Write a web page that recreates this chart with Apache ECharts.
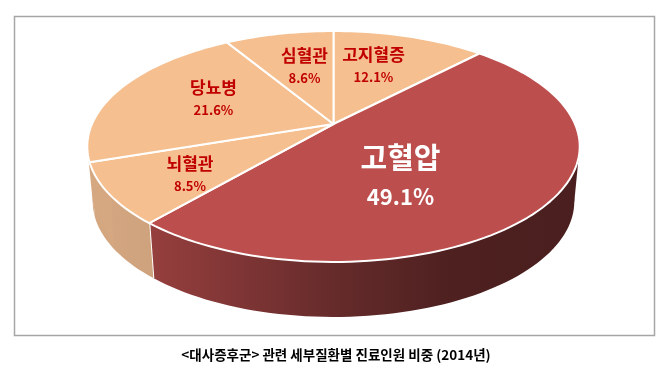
<!DOCTYPE html>
<html>
<head>
<meta charset="utf-8">
<style>
  html, body { margin: 0; padding: 0; background: #fff; }
  #main { width: 672px; height: 365px; }
</style>
<script src="https://cdn.jsdelivr.net/npm/echarts@6/dist/echarts.min.js"></script>
</head>
<body>
<div id="main"></div>
<script>
// clockwise from 12 o'clock
var categories = ['고지혈증', '고혈압', '뇌혈관', '당뇨병', '심혈관'];
var shares = [12.1, 49.1, 8.5, 21.6, 8.6];
var captionText = '<대사증후군> 관련 세부질환별 진료인원 비중 (2014년)';

var FONT = '"Noto Sans CJK KR", sans-serif';
var MAIN = 1; // the big dark slice

// tilted disc: a circle seen in perspective, apex is the centre of the circle
var apexX = 333.5, apexY = 124;
var scaleX = 241.5, scaleY = 111.1, persp = 0.1948;
var depth = 55, bottomShrink = 0.978;

var total = shares.reduce(function (a, b) { return a + b; }, 0);
var starts = [];
shares.reduce(function (acc, v, i) { starts[i] = acc; return acc + v; }, 0);

function rim(theta, bottom) {
    var u = Math.sin(theta), d = -Math.cos(theta);
    var w = 1 - persp * d;
    var k = bottom ? bottomShrink : 1;
    return [
        apexX + scaleX * u / w * k,
        apexY + scaleY * d / w + (bottom ? depth : 0)
    ];
}

function arc(i, bottom) {
    var a = starts[i] / total * Math.PI * 2;
    var b = (starts[i] + shares[i]) / total * Math.PI * 2;
    var n = Math.ceil(shares[i] * 2) + 2;
    var pts = [];
    for (var j = 0; j <= n; j++) {
        pts.push(rim(a + (b - a) * j / n, bottom));
    }
    return pts;
}

// closes the gap between the two rims at the widest point of the disc
// dir: +1 on the right side, -1 on the left (which way round is the front)
function sidePatch(theta, dir, color) {
    var s = 0.4 * dir;
    return {
        type: 'polygon',
        shape: { points: [rim(theta - s), rim(theta), rim(theta, true), rim(theta + s, true)] },
        style: { fill: color }
    };
}

// label centres, name line and percent line
var labelPos = [
    { x: 373.5, y: 55, py: 77 },
    { x: 400.5, y: 158, py: 197 },
    { x: 190, y: 164, py: 186 },
    { x: 213.5, y: 88, py: 110 },
    { x: 304.5, y: 56, py: 78 }
];

function renderWall(params) {
    var i = params.dataIndex;
    var pts = arc(i, false).concat(arc(i, true).reverse());
    var fill = i === MAIN
        ? new echarts.graphic.LinearGradient(0, 0, 1, 0, [
            { offset: 0, color: '#963f3e' },
            { offset: 0.45, color: '#642a2a' },
            { offset: 0.7, color: '#4e2020' },
            { offset: 1, color: '#4b1f1f' }
        ])
        : new echarts.graphic.LinearGradient(0, 0, 1, 0, [
            { offset: 0, color: '#d6a882' },
            { offset: 1, color: '#cda27c' }
        ]);
    var a = starts[i] / total * Math.PI * 2;
    var b = (starts[i] + shares[i]) / total * Math.PI * 2;
    var right = Math.acos(-persp), left = Math.PI * 2 - right;
    var children = [];
    if (a < left && left < b) {
        children.push(sidePatch(left, -1, '#d6a882'));
    }
    if (a < right && right < b) {
        children.push(sidePatch(right, 1, '#4b1f1f'));
    }
    children.push({
        type: 'polygon',
        shape: { points: pts },
        style: { fill: fill, stroke: null }
    });
    if (i === MAIN) {
        var p0 = rim(b, false), p1 = rim(b, true);
        children.push({
            type: 'line',
            shape: { x1: p0[0], y1: p0[1], x2: p1[0], y2: p1[1] },
            style: { stroke: '#fff', lineWidth: 2 }
        });
    }
    return { type: 'group', children: children };
}

function renderTop(params) {
    var i = params.dataIndex;
    return {
        type: 'polygon',
        shape: { points: [[apexX, apexY]].concat(arc(i, false)) },
        style: {
            fill: i === MAIN ? '#bc4f4d' : '#f5bf8f',
            stroke: '#fff',
            lineWidth: 2,
            lineJoin: 'round'
        }
    };
}

function renderLabel(params) {
    var i = params.dataIndex;
    var big = i === MAIN;
    var color = big ? '#fff' : '#c00000';
    var pos = labelPos[i];
    return {
        type: 'group',
        children: [{
            type: 'text',
            style: {
                x: pos.x, y: pos.y, text: categories[i], fill: color,
                font: 'bold ' + (big ? 29 : 17) + 'px ' + FONT,
                textAlign: 'center', textVerticalAlign: 'middle'
            }
        }, {
            type: 'text',
            style: {
                x: pos.x, y: pos.py, text: shares[i].toFixed(1) + '%', fill: color,
                font: 'bold ' + (big ? 22 : 13) + 'px ' + FONT,
                textAlign: 'center', textVerticalAlign: 'middle'
            }
        }]
    };
}

var chart = echarts.init(document.getElementById('main'), null, { renderer: 'canvas' });
chart.setOption({
    animation: false,
    backgroundColor: '#fff',
    graphic: [{
        type: 'rect',
        shape: { x: 14.5, y: 16.5, width: 640, height: 319 },
        style: { fill: 'none', stroke: '#a6a6a6', lineWidth: 1.5 },
        silent: true
    }, {
        type: 'text',
        style: {
            x: 336, y: 355, text: captionText, fill: '#000',
            font: 'bold 13.5px ' + FONT,
            textAlign: 'center', textVerticalAlign: 'middle'
        },
        silent: true
    }],
    series: [
        { type: 'custom', coordinateSystem: 'none', name: 'wall', silent: true, z: 1, renderItem: renderWall, data: shares },
        { type: 'custom', coordinateSystem: 'none', name: 'top', silent: true, z: 2, renderItem: renderTop, data: shares },
        { type: 'custom', coordinateSystem: 'none', name: 'label', silent: true, z: 3, renderItem: renderLabel, data: shares }
    ]
});
</script>
</body>
</html>
